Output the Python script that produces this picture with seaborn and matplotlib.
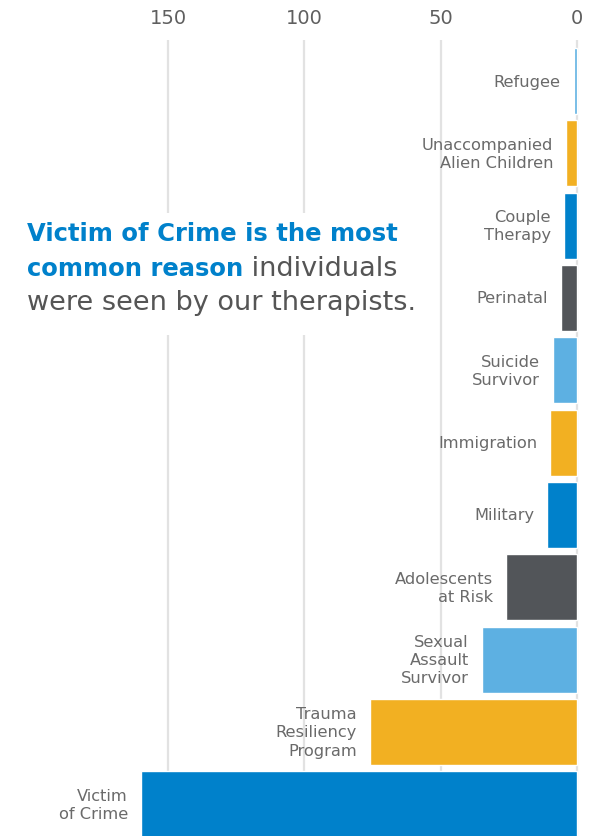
import matplotlib
matplotlib.use("Agg")
import matplotlib.pyplot as plt
import seaborn as sns
import pandas as pd

categories = ["Refugee", "Unaccompanied Alien Children", "Couple Therapy", "Perinatal",
              "Suicide Survivor", "Immigration", "Military", "Adolescents at Risk",
              "Sexual Assault Survivor", "Trauma Resiliency Program", "Victim of Crime"]
display_labels = ["Refugee", "Unaccompanied\nAlien Children", "Couple\nTherapy", "Perinatal",
                  "Suicide\nSurvivor", "Immigration", "Military", "Adolescents\nat Risk",
                  "Sexual\nAssault\nSurvivor", "Trauma\nResiliency\nProgram", "Victim\nof Crime"]
values = [1.3, 4, 5, 6, 9, 10, 11, 26, 35, 76, 160]
tick_values = [0, 50, 100, 150]
bar_colors = ["#5DB0E2", "#F2B022", "#0081CB", "#525559",
              "#5DB0E2", "#F2B022", "#0081CB", "#525559",
              "#5DB0E2", "#F2B022", "#0081CB"]

FONT = "DejaVu Sans"
sns.set_theme(style="white")
plt.rcParams["font.family"] = [FONT]

W, H = 608, 837
fig = plt.figure(figsize=(W / 100, H / 100), dpi=100)
ax = fig.add_axes([0, 0, 1, (H - 41) / H])

df = pd.DataFrame({"category": categories, "value": values})
sns.barplot(data=df, x="value", y="category", hue="category", palette=bar_colors,
            legend=False, width=0.913, saturation=1, ax=ax, zorder=3)

px_per_unit = 136.4 / 50
x0 = 577.3
ax.set_xlim(x0 / px_per_unit, -(W - x0) / px_per_unit)
ax.set_ylim(10.44, -0.567)

ax.set_xticks(tick_values)
ax.set_xticklabels([str(t) for t in tick_values])
ax.xaxis.tick_top()
ax.tick_params(axis="x", length=0, pad=9, labelsize=14, labelcolor="#5F5F5F")
ax.set_yticks([])
ax.set_xlabel("")
ax.set_ylabel("")
for s in ax.spines.values():
    s.set_visible(False)
ax.grid(axis="x", color="#E2E2E2", linewidth=1.6, zorder=0)
ax.grid(axis="y", visible=False)
ax.set_axisbelow(True)

for i, (v, lab) in enumerate(zip(values, display_labels)):
    ax.annotate(lab, xy=(v, i), xytext=(-13, 0), textcoords="offset pixels",
                ha="right", va="center", multialignment="right",
                fontsize=11.7, color="#6A6A6A", linespacing=1.28, zorder=4)

# white panel behind the headline (hides gridlines)
from matplotlib.patches import Rectangle
fig.patches.append(Rectangle((18 / W, 1 - 336 / H), (428 - 18) / W, (336 - 214) / H,
                             transform=fig.transFigure, facecolor="white",
                             edgecolor="none", zorder=5))

blue = "#0081CB"
grey = "#555555"
fsb = 17.5
fsn = 19.5
xl = 27 / W
t1 = fig.text(xl, 1 - 241 / H, "Victim of Crime is the most", fontsize=fsb,
              fontweight="bold", color=blue, va="baseline", ha="left", zorder=6)
t2 = fig.text(xl, 1 - 276 / H, "common reason", fontsize=fsb,
              fontweight="bold", color=blue, va="baseline", ha="left", zorder=6)
fig.canvas.draw()
r = fig.canvas.get_renderer()
bb = t2.get_window_extent(renderer=r)
fig.text(bb.x1 / W, 1 - 276 / H, " individuals", fontsize=fsn, color=grey,
         va="baseline", ha="left", zorder=6)
fig.text(xl, 1 - 310 / H, "were seen by our therapists.", fontsize=fsn,
         color=grey, va="baseline", ha="left", zorder=6)

fig.savefig("out.png", dpi=100, facecolor="white")
